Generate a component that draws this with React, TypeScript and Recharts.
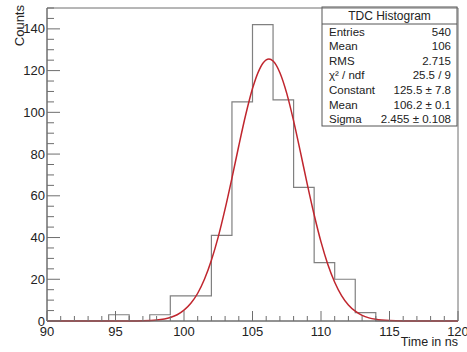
import React from "react";
import {
  ComposedChart,
  Line,
  XAxis,
  YAxis,
  ReferenceArea,
  Customized,
} from "recharts";

// Histogram bins (lower edges, width 1.5 ns) and their counts
const binLows = [
  90, 91.5, 93, 94.5, 96, 97.5, 99, 100.5, 102, 103.5, 105, 106.5, 108, 109.5,
  111, 112.5, 114, 115.5, 117, 118.5,
];
const binCounts = [
  0, 0, 0, 3, 0, 3, 12, 12, 41, 105, 142, 106, 64, 28, 20, 4, 0, 0, 0, 0,
];
const histUpper = 120;

// Fitted gaussian curve
const fitX = [
  90, 94, 96, 97, 98, 99, 99.5, 100, 100.5, 101, 101.5, 102, 102.5, 103, 103.5,
  104, 104.5, 105, 105.5, 106, 106.2, 106.5, 107, 107.5, 108, 108.5, 109, 109.5,
  110, 110.5, 111, 111.5, 112, 112.5, 113, 113.5, 114, 115, 116, 118, 120,
];
const fitY = [
  0, 0, 0.02, 0.11, 0.47, 1.7, 3.0, 5.2, 8.5, 13.3, 20.1, 29.1, 40.3, 53.7,
  68.5, 84.0, 98.7, 111.4, 120.5, 125.1, 125.5, 124.6, 119.0, 109.1, 95.9, 80.9,
  65.5, 50.9, 37.9, 27.1, 18.6, 12.2, 7.7, 4.7, 2.7, 1.5, 0.8, 0.2, 0.04, 0, 0,
];

// Axis ticks
const xTicks = [
  90, 91, 92, 93, 94, 95, 96, 97, 98, 99, 100, 101, 102, 103, 104, 105, 106,
  107, 108, 109, 110, 111, 112, 113, 114, 115, 116, 117, 118, 119, 120,
];
const yTicks = [
  0, 5, 10, 15, 20, 25, 30, 35, 40, 45, 50, 55, 60, 65, 70, 75, 80, 85, 90, 95,
  100, 105, 110, 115, 120, 125, 130, 135, 140, 145, 150,
];
const yLabelled = [0, 20, 40, 60, 80, 100, 120, 140];

// Stats box
const statsTitle = "TDC Histogram";
const statsNames = ["Entries", "Mean", "RMS", "χ² / ndf", "Constant", "Mean", "Sigma"];
const statsValues = ["540", "106", "2.715", "25.5 / 9", "125.5 ± 7.8", "106.2 ± 0.1", "2.455 ± 0.108"];

const xTitle = "Time in ns";
const yTitle = "Counts";

const FONT = "'Liberation Sans', Arial, Helvetica, sans-serif";
const AXIS = "#6e6e6e";
const TEXT = "#222";

const histData = binLows
  .map((x, i) => ({ x, count: binCounts[i] }))
  .concat([{ x: histUpper, count: 0 }]);
const fitData = fitX.map((x, i) => ({ x, fit: fitY[i] }));

const XTick = (props: any) => {
  const { x, y, payload } = props;
  const v = payload.value;
  const major = v % 5 === 0;
  return (
    <g>
      <line x1={x} x2={x} y1={y} y2={y - (major ? 10 : 5)} stroke={AXIS} strokeWidth={1} />
      {major && (
        <text x={x} y={y + 15} textAnchor="middle" fontSize={13} fill={TEXT} fontFamily={FONT}>
          {v}
        </text>
      )}
    </g>
  );
};

const YTick = (props: any) => {
  const { x, y, payload } = props;
  const v = payload.value;
  const major = v % 20 === 0;
  return (
    <g>
      <line x1={x} x2={x + (major ? 13 : 7)} y1={y} y2={y} stroke={AXIS} strokeWidth={1} />
      {yLabelled.includes(v) && (
        <text x={x - 2} y={y} dy="0.35em" textAnchor="end" fontSize={13} fill={TEXT} fontFamily={FONT}>
          {v}
        </text>
      )}
    </g>
  );
};

const Annotations = () => {
  const bx = 322;
  const by = 7;
  const bw = 135;
  const bh = 119;
  return (
    <g fontFamily={FONT}>
      <rect x={bx} y={by} width={bw} height={bh} fill="#fff" stroke="#555" strokeWidth={1} />
      <line x1={bx} x2={bx + bw} y1={24} y2={24} stroke="#555" strokeWidth={1} />
      <text x={bx + bw / 2} y={15.5} dy="0.35em" textAnchor="middle" fontSize={12} fill={TEXT}>
        {statsTitle}
      </text>
      {statsNames.map((n, i) => (
        <g key={i}>
          <text x={329} y={31.6 + 14.6 * i} dy="0.35em" fontSize={11.5} fill={TEXT}>
            {n}
          </text>
          <text x={451} y={31.6 + 14.6 * i} dy="0.35em" textAnchor="end" fontSize={11.5} fill={TEXT}>
            {statsValues[i]}
          </text>
        </g>
      ))}
      <text x={458} y={346} textAnchor="end" fontSize={12.5} fill={TEXT}>
        {xTitle}
      </text>
      <text transform="translate(24,5) rotate(-90)" textAnchor="end" fontSize={13} fill={TEXT}>
        {yTitle}
      </text>
    </g>
  );
};

export default function App() {
  return (
    <div style={{ position: "absolute", left: 0, top: 0, background: "#fff" }}>
      <ComposedChart
        width={467}
        height={352}
        margin={{ top: 8, right: 9, bottom: 0, left: 0 }}
      >
        <XAxis
          type="number"
          dataKey="x"
          domain={[90, 120]}
          ticks={xTicks}
          interval={0}
          tickSize={0}
          tickMargin={0}
          tickLine={false}
          tick={<XTick />}
          height={31}
          axisLine={{ stroke: AXIS }}
          allowDuplicatedCategory={false}
        />
        <YAxis
          type="number"
          domain={[0, 150]}
          ticks={yTicks}
          interval={0}
          tickSize={0}
          tickMargin={0}
          tickLine={false}
          tick={<YTick />}
          width={47}
          axisLine={{ stroke: AXIS }}
        />
        <ReferenceArea x1={90} x2={120} y1={0} y2={150} fill="none" stroke={AXIS} strokeWidth={1} />
        <Line
          data={histData}
          dataKey="count"
          type="stepAfter"
          stroke="#808080"
          strokeWidth={1.2}
          dot={false}
          activeDot={false}
          isAnimationActive={false}
        />
        <Line
          data={fitData}
          dataKey="fit"
          type="monotone"
          stroke="#c0262e"
          strokeWidth={1.5}
          dot={false}
          activeDot={false}
          isAnimationActive={false}
        />
        <Customized component={Annotations} />
      </ComposedChart>
    </div>
  );
}
